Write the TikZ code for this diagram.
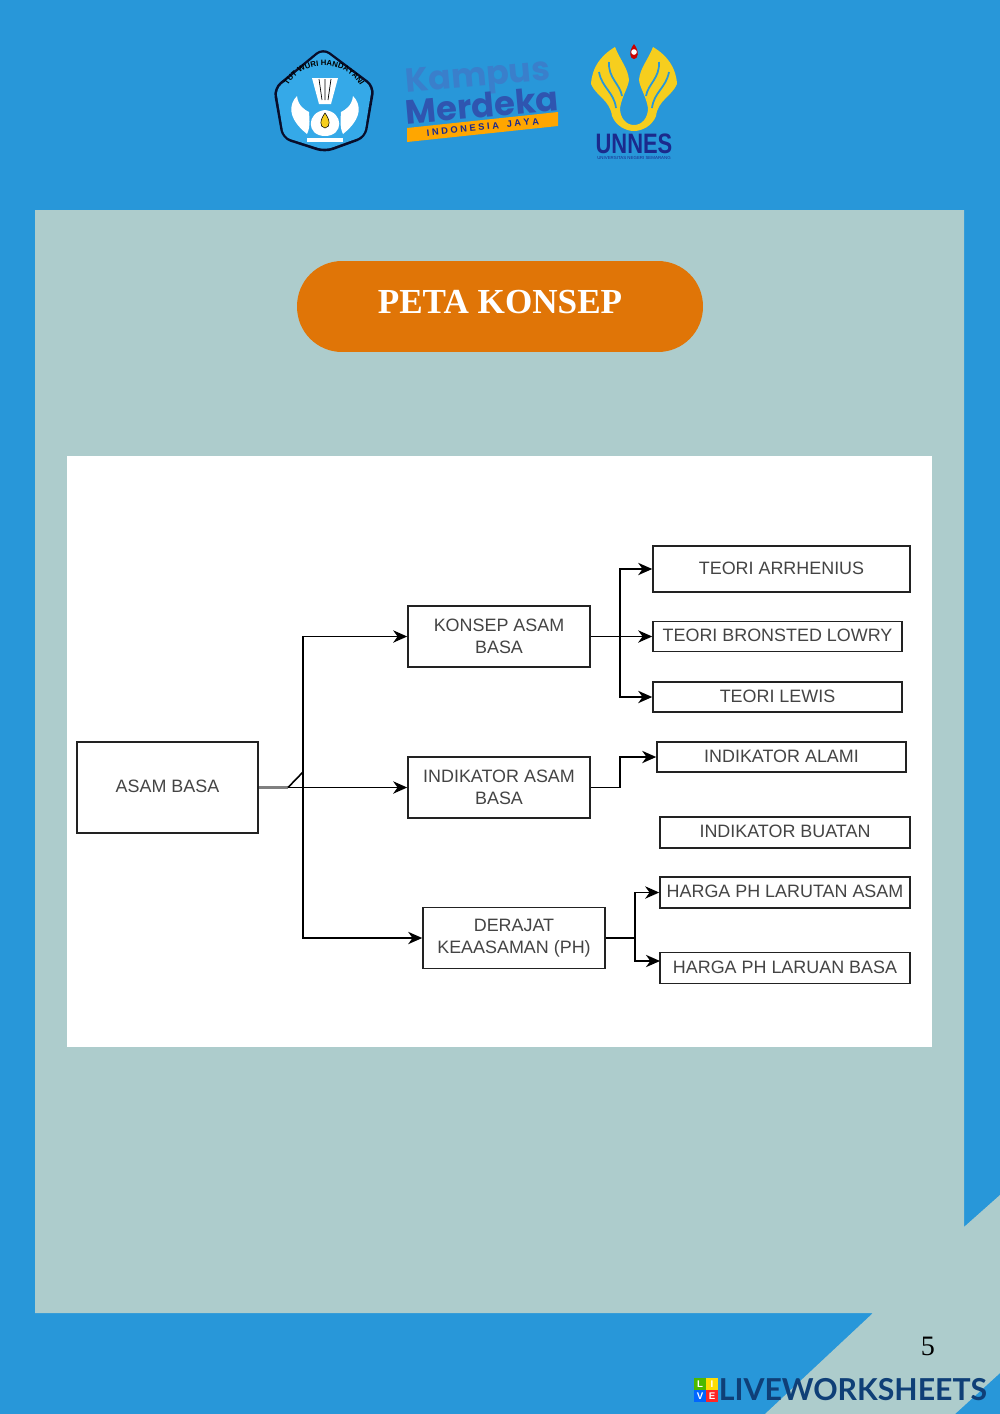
\documentclass[tikz,border=0pt]{standalone}
\usepackage{fontspec}
\usepackage{tikz}
\usetikzlibrary{arrows.meta, decorations.text}
\setmainfont{Liberation Sans}
\newfontfamily\judulfont{Liberation Serif}
\newfontfamily\logofont{Poppins}
\newfontfamily\lwfont{Lato}
\definecolor{latarbiru}{HTML}{2897D9}
\definecolor{panelhijau}{HTML}{ADCCCC}
\definecolor{jingga}{HTML}{E07507}
\definecolor{teksabu}{HTML}{444444}
\definecolor{garisgelap}{HTML}{222222}
\definecolor{kuning}{HTML}{F6CE1E}
\definecolor{navy}{HTML}{1B2A8C}
\definecolor{lwbiru}{HTML}{0F3F77}
\definecolor{perisai}{HTML}{35A9E8}
\definecolor{kampusbiru}{HTML}{3A7FCB}
\definecolor{merdekabiru}{HTML}{2F55B0}
\tikzset{
	kotak/.style={draw=garisgelap, line width=0.9pt, fill=white, text=teksabu, align=center, inner sep=0pt,
		font=\fontsize{10.2}{12.5}\selectfont},
	kotaksatu/.style={kotak, text depth=1.2pt},
	panah/.style={->, draw=black, line width=0.9pt},
	kotaklw/.style={minimum size=0.225cm, inner sep=0pt, text=white, font=\fontsize{5.5}{6}\selectfont\bfseries},
}

\begin{document}
\begin{tikzpicture}[x=0.02cm, y=-0.02cm, >={Stealth[length=8pt, width=7pt, inset=2.5pt]}]
	\useasboundingbox (0,0) rectangle (1000,1414);
	% ==================== latar ====================
	\fill[latarbiru] (0,0) rectangle (1000,1414);
	\fill[panelhijau] (35,210) -- (964,210) -- (964,1227) -- (1000,1195) -- (1000,1373) -- (955,1414)
		-- (765,1414) -- (873,1313) -- (35,1313) -- cycle;
	\fill[white] (67,456) rectangle (932,1047);

	% ==================== logo Tut Wuri ====================
	\fill[fill=black!70!navy, rounded corners=5pt] (323,47) -- (375,86) -- (366,138) -- (325,153) -- (282,139) -- (273,88) -- cycle;
	\fill[fill=perisai, rounded corners=4pt] (323,50) -- (372,87) -- (364,136) -- (325,150) -- (284,137) -- (276,89) -- cycle;
	\path[decorate, decoration={text along path, text align=center,
		text={|\fontsize{4.4}{5}\selectfont\bfseries\color{black}|TUT WURI HANDAYANI}}]
		(284,94) .. controls (296,56) and (352,56) .. (364,94);
	\foreach \s in {1,-1}{
		\begin{scope}[shift={(325,0)}, xscale=\s]
			\fill[white] (-28,96) .. controls (-36,104) and (-38,118) .. (-18,134) .. controls (-14,126) and (-16,116) .. (-16,112) .. controls (-20,110) and (-27,106) .. (-28,96) -- cycle;
		\end{scope}
	}
	\fill[white] (325,110) .. controls (306,112) and (306,136) .. (325,136) .. controls (344,136) and (344,112) .. (325,110) -- cycle;
	\fill[white] (312,78) -- (338,78) -- (331,104) -- (319,104) -- cycle;
	\draw[black, line width=0.4pt] (319,79) -- (322,100) (325,79) -- (325,100) (331,79) -- (328,100);
	\fill[kuning, draw=black, line width=0.3pt] (325,113) .. controls (320,120) and (319,127) .. (325,128) .. controls (331,127) and (330,120) .. (325,113) -- cycle;
	\draw[white, line width=2pt] (307,140) -- (343,140);

	% ==================== logo Kampus Merdeka ====================
	\node[inner sep=0pt, text=kampusbiru, rotate=5, font=\logofont\fontsize{19}{22}\selectfont\bfseries] (kampus) at (478,79) {Kampus};
	\node[inner sep=0pt, text=merdekabiru, rotate=5, font=\logofont\fontsize{19.2}{22}\selectfont\bfseries] (merdeka) at (482,105) {Merdeka};
	\fill[orange!70!yellow] (407,128) -- (558,112) -- (558,126) -- (407,142) -- cycle;
	\node[inner sep=0pt, text=navy, rotate=6, font=\fontsize{5.3}{6}\selectfont\bfseries] (jaya) at (483,127) {I N D O N E S I A \ \ J A Y A};

	% ==================== logo UNNES ====================
	\foreach \s in {1,-1}{
		\begin{scope}[shift={(634,0)}, xscale=\s]
			\fill[kuning] (-19,47) .. controls (-34,56) and (-42,68) .. (-43,84) .. controls (-38,96) and (-24,100) .. (-22,116)
				.. controls (-18,126) and (-8,131) .. (0,131) -- (0,125) .. controls (-8,125) and (-14,118) .. (-14,108)
				.. controls (-12,96) and (-6,88) .. (-5,80) .. controls (-6,68) and (-14,60) .. (-19,47) -- cycle;
			\draw[latarbiru, line width=1pt] (-35,72) .. controls (-32,88) and (-20,92) .. (-18,108);
			\draw[latarbiru, line width=1pt] (-25,62) .. controls (-26,78) and (-14,84) .. (-12,96);
		\end{scope}
	}
	\fill[red!80!black] (634,44) .. controls (628,52) and (630,59) .. (634,59) .. controls (638,59) and (640,52) .. (634,44) -- cycle;
	\fill[white] (634,52) circle (1.6pt);
	\node[inner sep=0pt, text=navy, xscale=0.78, font=\fontsize{16}{16}\selectfont\bfseries] (unnes) at (634,144) {UNNES};
	\node[inner sep=0pt, text=navy, font=\fontsize{2.5}{3}\selectfont] (unnessub) at (634,158) {UNIVERSITAS NEGERI SEMARANG};

	% ==================== judul ====================
	\node[fill=jingga, rounded corners=0.9cm, minimum width=8.12cm, minimum height=1.82cm, inner sep=0pt] (pil) at (500,306.5) {};
	\node[inner sep=0pt, text=white, font=\judulfont\fontsize{20}{22}\selectfont\bfseries] (judul) at (500,302) {PETA KONSEP};

	% ==================== kotak peta konsep ====================
	\node[kotaksatu, minimum width=3.62cm, minimum height=1.82cm] (asam) at (167.5,787.5) {ASAM BASA};
	\node[kotak, minimum width=3.64cm, minimum height=1.22cm] (konsep) at (499,636.5) {KONSEP ASAM\\BASA};
	\node[kotak, minimum width=3.64cm, minimum height=1.22cm] (indikator) at (499,787.5) {INDIKATOR ASAM\\BASA};
	\node[kotak, minimum width=3.64cm, minimum height=1.22cm] (derajat) at (514,938) {DERAJAT\\KEAASAMAN (PH)};
	\node[kotaksatu, minimum width=5.14cm, minimum height=0.92cm] (arrhenius) at (781.5,569) {TEORI ARRHENIUS};
	\node[kotaksatu, minimum width=4.98cm, minimum height=0.6cm] (bronsted) at (777.5,636.5) {TEORI BRONSTED LOWRY};
	\node[kotaksatu, minimum width=4.98cm, minimum height=0.6cm] (lewis) at (777.5,697) {TEORI LEWIS};
	\node[kotaksatu, minimum width=4.98cm, minimum height=0.6cm] (alami) at (781.5,757) {INDIKATOR ALAMI};
	\node[kotaksatu, minimum width=5cm, minimum height=0.62cm] (buatan) at (785,832.5) {INDIKATOR BUATAN};
	\node[kotaksatu, minimum width=5cm, minimum height=0.62cm] (hargaasam) at (785,892.5) {HARGA PH LARUTAN ASAM};
	\node[kotaksatu, minimum width=5cm, minimum height=0.62cm] (hargabasa) at (785,968) {HARGA PH LARUAN BASA};

	% ==================== panah ====================
	\coordinate (cabang) at (288,787.5);
	\coordinate (tik) at (303,772);
	\coordinate (batang) at (303,787.5);
	\coordinate (bagiA) at (620,636.5);
	\coordinate (bagiB) at (620,757);
	\coordinate (bagiC) at (635,938);
	\coordinate (ujungC) at (660,961);
	\draw[gray, line width=1.4pt] (asam.east) -- (cabang);
	\draw[panah] (cabang) -- (indikator.west);
	\draw[black, line width=0.9pt] (cabang) -- (tik);
	\draw[panah] (batang) |- (konsep.west);
	\draw[panah] (batang) |- (derajat.west);

	\draw[panah] (konsep.east) -- (bronsted.west);
	\draw[panah] (bagiA) |- (arrhenius.west);
	\draw[panah] (bagiA) |- (lewis.west);

	\draw[panah] (indikator.east) -| (bagiB) -- (alami.west);

	\draw[black, line width=0.9pt] (derajat.east) -- (bagiC);
	\draw[panah] (bagiC) |- (hargaasam.west);
	\draw[panah] (bagiC) |- (ujungC);

	% ==================== nomor dan merek ====================
	\node[inner sep=0pt, font=\judulfont\fontsize{16}{18}\selectfont] (nomor) at (928,1346) {5};
	\node[kotaklw, fill=green!60!black!70!yellow] (hurufL) at (700,1384) {L};
	\node[kotaklw, fill=yellow!80!orange] (hurufI) at (712,1384) {I};
	\node[kotaklw, fill=blue!60!cyan] (hurufV) at (700,1396) {V};
	\node[kotaklw, fill=red!80!pink] (hurufE) at (712,1396) {E};
	\node[inner sep=0pt, text=lwbiru, font=\lwfont\fontsize{17.2}{20}\selectfont\bfseries] (merek) at (853,1390) {LIVEWORKSHEETS};
\end{tikzpicture}
\end{document}
